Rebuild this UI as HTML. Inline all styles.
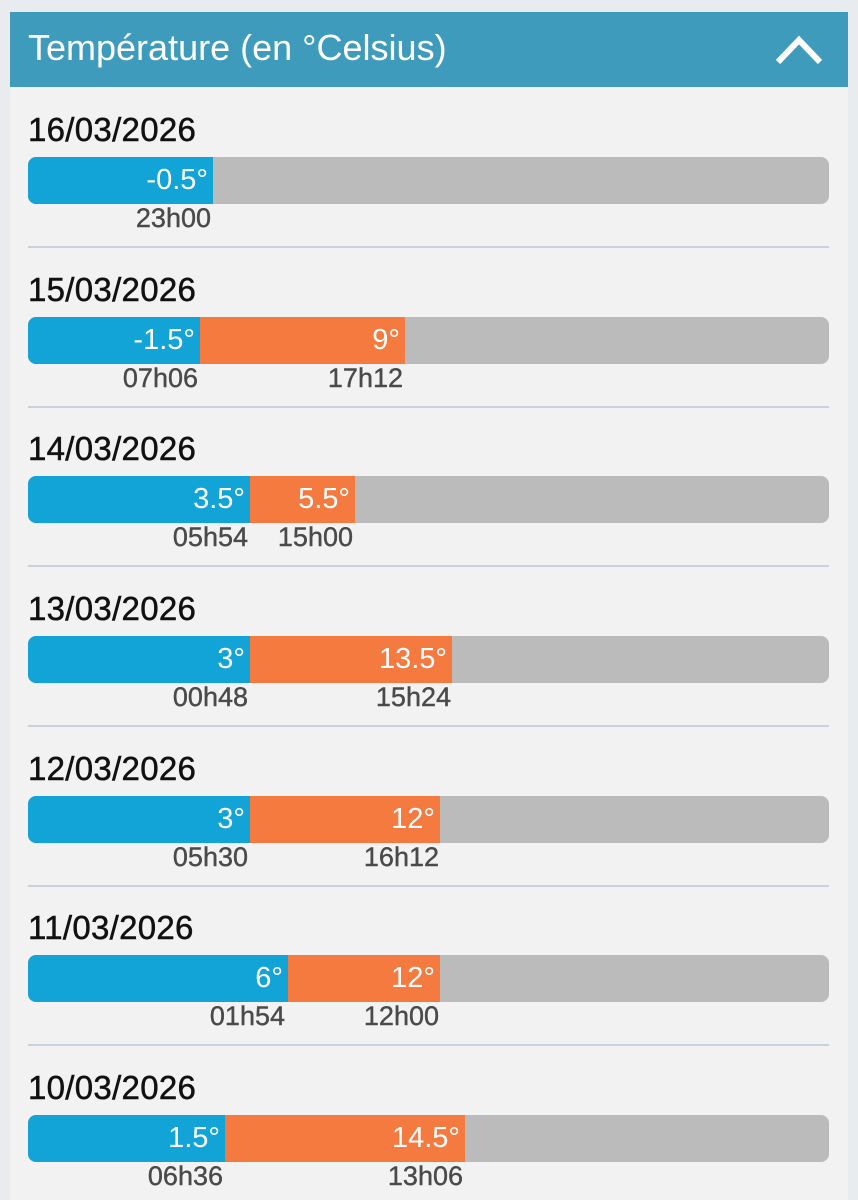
<!DOCTYPE html>
<html><head><meta charset="utf-8"><style>
html,body{margin:0;width:858px;height:1200px;overflow:hidden}
body{background:#e9ecef;font-family:"Liberation Sans",sans-serif;position:relative}
.panel{position:absolute;left:10px;top:12px;width:838px;height:1188px;background:#f2f2f2}
.hdr{position:absolute;left:10px;top:12px;width:838px;height:75px;background:#3f9bbc}
.hdr span{position:absolute;left:18px;top:15px;color:#fff;font-size:36px;letter-spacing:0px}
.chev{position:absolute;left:764px;top:22px}
.row{position:absolute;left:28px;width:801px;height:160px}
.date{position:absolute;left:0;top:-17px;font-size:33px;color:#111;letter-spacing:0.3px;-webkit-text-stroke:0.5px #111}
.bar{position:absolute;left:0;top:29px;width:801px;height:47px;background:#bbbbbb;border-radius:8px;overflow:hidden}
.seg{position:absolute;top:0;height:47px;color:#fff;font-size:29px;line-height:47px;text-align:right;box-sizing:border-box;padding-right:5px}
.b{background:#12a4d7;left:0}
.o{background:#f47a3f}
.t{position:absolute;top:75px;font-size:27px;color:#4a4a4a;text-align:right;-webkit-text-stroke:0.4px #4a4a4a}
.sep{position:absolute;left:0;top:118px;width:801px;height:2px;background:#c5d3dd}
</style></head><body>
<div class="panel"></div>
<div class="hdr"><span>Température (en °Celsius)</span>
<svg class="chev" width="50" height="32" viewBox="0 0 50 32"><polyline points="4,28 25,6 46,28" fill="none" stroke="#fff" stroke-width="6"/></svg></div>

<div class="row" style="top:128px"><div class="date">16/03/2026</div>
<div class="bar"><div class="seg b" style="width:185px">-0.5°</div></div>
<div class="t" style="right:618px">23h00</div><div class="sep"></div></div>

<div class="row" style="top:288px"><div class="date">15/03/2026</div>
<div class="bar"><div class="seg b" style="width:172px">-1.5°</div><div class="seg o" style="left:172px;width:205px">9°</div></div>
<div class="t" style="right:631px">07h06</div><div class="t" style="right:426px">17h12</div><div class="sep"></div></div>

<div class="row" style="top:447px"><div class="date">14/03/2026</div>
<div class="bar"><div class="seg b" style="width:222px">3.5°</div><div class="seg o" style="left:222px;width:105px">5.5°</div></div>
<div class="t" style="right:581px">05h54</div><div class="t" style="right:476px">15h00</div><div class="sep"></div></div>

<div class="row" style="top:607px"><div class="date">13/03/2026</div>
<div class="bar"><div class="seg b" style="width:222px">3°</div><div class="seg o" style="left:222px;width:202px">13.5°</div></div>
<div class="t" style="right:581px">00h48</div><div class="t" style="right:378px">15h24</div><div class="sep"></div></div>

<div class="row" style="top:767px"><div class="date">12/03/2026</div>
<div class="bar"><div class="seg b" style="width:222px">3°</div><div class="seg o" style="left:222px;width:190px">12°</div></div>
<div class="t" style="right:581px">05h30</div><div class="t" style="right:390px">16h12</div><div class="sep"></div></div>

<div class="row" style="top:926px"><div class="date">11/03/2026</div>
<div class="bar"><div class="seg b" style="width:260px">6°</div><div class="seg o" style="left:260px;width:152px">12°</div></div>
<div class="t" style="right:544px">01h54</div><div class="t" style="right:390px">12h00</div><div class="sep"></div></div>

<div class="row" style="top:1086px"><div class="date">10/03/2026</div>
<div class="bar"><div class="seg b" style="width:197px">1.5°</div><div class="seg o" style="left:197px;width:240px">14.5°</div></div>
<div class="t" style="right:606px">06h36</div><div class="t" style="right:366px">13h06</div></div>
</body></html>
